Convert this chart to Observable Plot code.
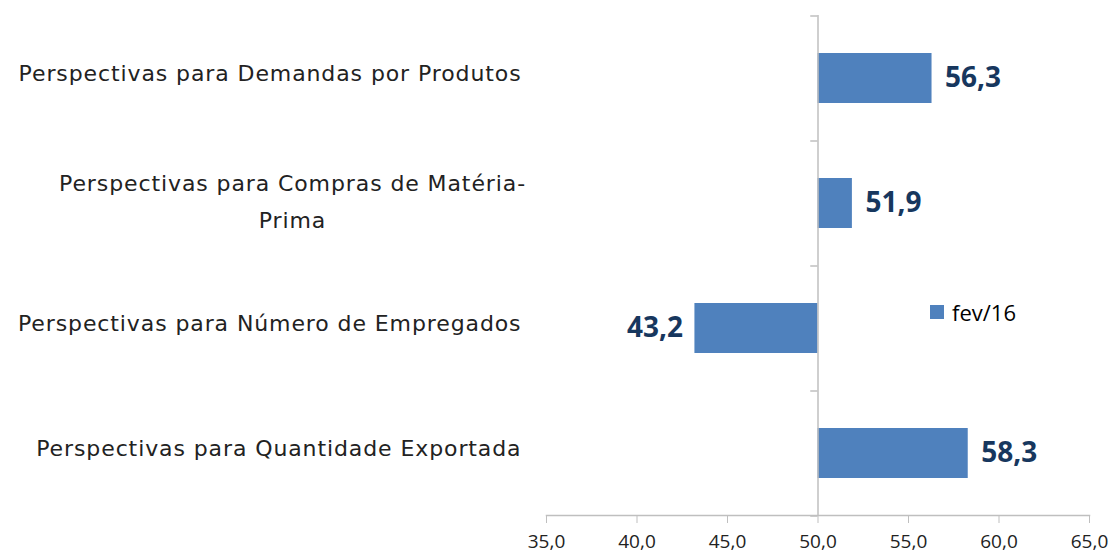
<!DOCTYPE html>
<html>
<head>
<meta charset="utf-8">
<script src="https://cdn.jsdelivr.net/npm/d3@7"></script>
<script src="https://cdn.jsdelivr.net/npm/@observablehq/plot@0.6"></script>
<style>
  html, body { margin: 0; padding: 0; background: #fff; }
  #wrap { position: relative; width: 1111px; height: 553px; overflow: hidden; }
  #legend { position: absolute; left: 930px; top: 297px; font-family: "Open Sans", sans-serif; font-size: 22px; color: #000; display: flex; align-items: center; }
  #legend .sw { width: 14px; height: 14px; background: #4F81BD; margin-right: 8px; }
</style>
</head>
<body>
<div id="wrap"><div id="legend"><span class="sw"></span><span id="legend-text"></span></div></div>
<script>
const categories = [
  "Perspectivas para Demandas por Produtos",
  "Perspectivas para Compras de Matéria-Prima",
  "Perspectivas para Número de Empregados",
  "Perspectivas para Quantidade Exportada"
];
const values = [56.3, 51.9, 43.2, 58.3];
const xTicks = [35, 40, 45, 50, 55, 60, 65];
const baseline = 50;
const seriesName = "fev/16";
const wrappedLabel = "Perspectivas para Compras de Matéria-\nPrima";

document.getElementById("legend-text").textContent = seriesName;

const data = categories.map((c, i) => ({cat: c, value: values[i]}));
const fmt = d => d.toFixed(1).replace(".", ",");
const labelFont = "DejaVu Sans";

const chart = Plot.plot({
  width: 1111,
  height: 553,
  marginLeft: 546,
  marginRight: 22,
  marginTop: 15,
  marginBottom: 38,
  style: {background: "transparent", overflow: "visible"},
  x: {domain: [35, 65], axis: null},
  y: {domain: categories, paddingInner: 0.6, paddingOuter: 0.3, axis: null},
  marks: [
    Plot.barX(data, {y: "cat", x1: baseline, x2: "value", fill: "#4F81BD"}),
    Plot.ruleX([baseline], {stroke: "#BFBFBF", strokeWidth: 1.5}),
    Plot.ruleY(categories, {y: d => d, x1: baseline - 0.4, x2: baseline, dy: -62.5, stroke: "#BFBFBF", strokeWidth: 1.5}),
    Plot.ruleY([categories[categories.length - 1]], {y: d => d, x1: baseline - 0.4, x2: baseline, dy: 62.5, stroke: "#BFBFBF", strokeWidth: 1.5}),
    Plot.frame({anchor: "bottom", stroke: "#BFBFBF", strokeWidth: 1.5}),
    Plot.axisX({ticks: xTicks, tickSize: 8, tickPadding: 11, tickFormat: fmt, stroke: "#BFBFBF", fill: "#222", fontSize: 19, fontFamily: "Open Sans", label: null, strokeOpacity: 1}),
    Plot.text(data.filter(d => d.value >= baseline), {y: "cat", x: "value", text: d => fmt(d.value), textAnchor: "start", dx: 13, fill: "#17375E", fontWeight: "bold", fontSize: 28, fontFamily: "Open Sans"}),
    Plot.text(data.filter(d => d.value < baseline), {y: "cat", x: "value", text: d => fmt(d.value), textAnchor: "end", dx: -12, fill: "#17375E", fontWeight: "bold", fontSize: 28, fontFamily: "Open Sans"}),
    Plot.text(categories.filter(c => c !== categories[1]), {y: d => d, text: d => d, frameAnchor: "left", textAnchor: "end", dx: -25, dy: -5, fontSize: 22, fill: "#222", fontFamily: labelFont}),
    Plot.text([categories[1]], {y: d => d, text: () => wrappedLabel, frameAnchor: "left", textAnchor: "middle", dx: -254, dy: -6, lineHeight: 1.7, fontSize: 22, fill: "#222", fontFamily: labelFont})
  ]
});
d3.select(chart).selectAll('g[font-family="DejaVu Sans"]').style("letter-spacing", "0.9px");
document.getElementById("wrap").prepend(chart);
</script>
</body>
</html>
